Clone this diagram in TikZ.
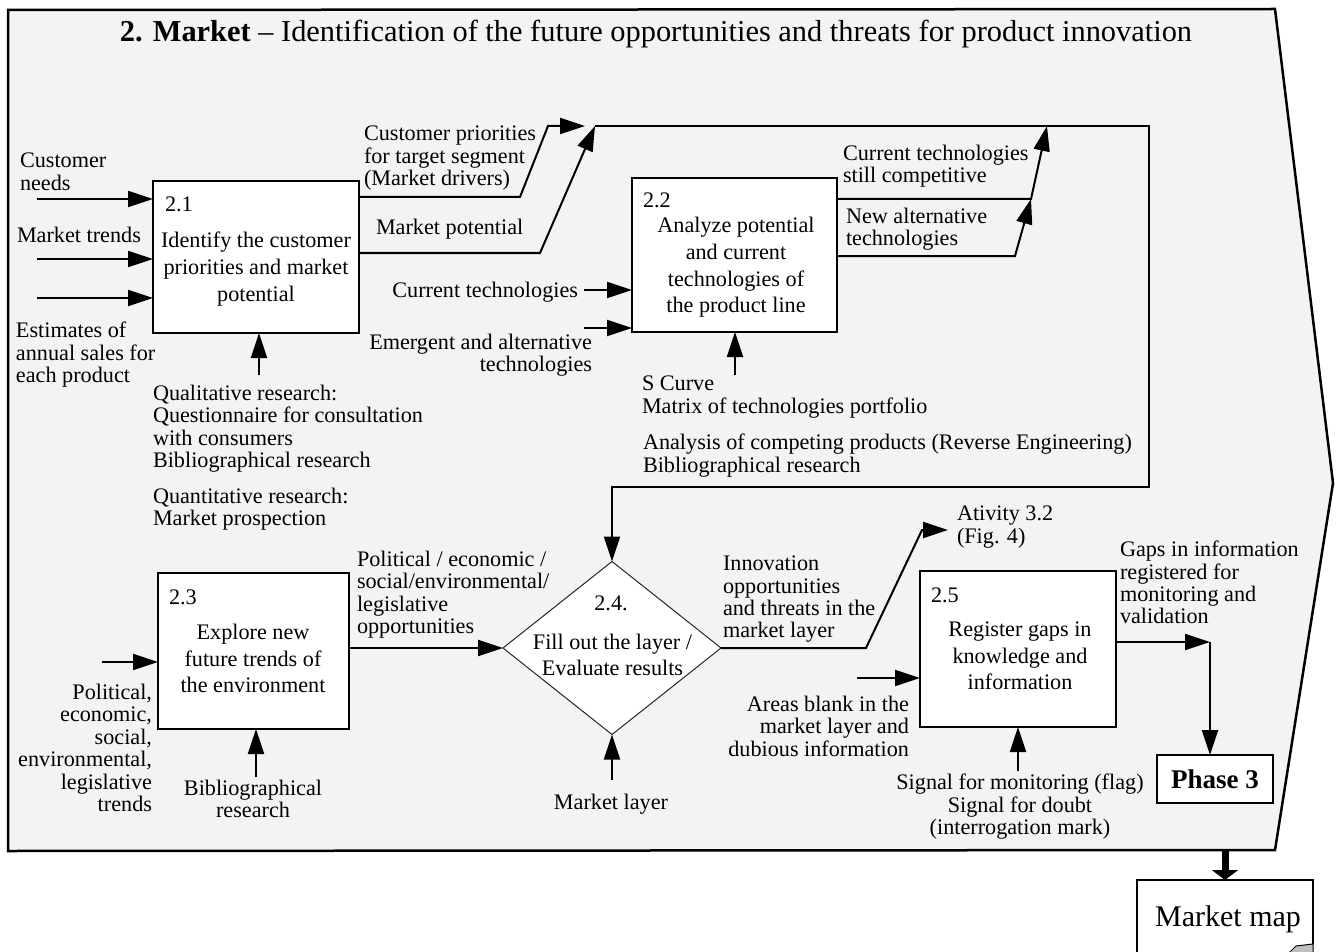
\documentclass[tikz,border=0pt]{standalone}
\usepackage{fontspec}
\setmainfont{Liberation Serif}
\usetikzlibrary{arrows.meta,shapes.geometric}
\definecolor{bgc}{RGB}{243,243,243}
\newcommand{\fsL}{\fontsize{22.2}{22.4}\selectfont}
\newcommand{\fsB}{\fontsize{22.2}{26.6}\selectfont}
\begin{document}
\begin{tikzpicture}[x=1pt,y=-1pt,
  txt/.style={inner sep=0pt, outer sep=0pt, font=\fsL, align=left},
  btxt/.style={inner sep=0pt, outer sep=0pt, font=\fsB, align=center},
  box/.style={draw, line width=2pt, fill=white, inner sep=0pt, outer sep=0pt},
  arr/.style={line width=2pt, -{Triangle[length=25pt,width=16pt]}},
  ln/.style={line width=2pt},
]
\useasboundingbox (0,0) rectangle (1336,952);
% outer frame
\draw[line width=2.5pt, fill=bgc] (8,10) -- (1275,9) -- (1333,483) -- (1275,850) -- (8,851) -- cycle;
\coordinate (ob) at (1225,851);

% title
\node[inner sep=0pt, font=\fontsize{30.4}{32}\selectfont, anchor=base] (title) at (656,42)
  {\textbf{2. Market} – Identification of the future opportunities and threats for product innovation};

% boxes
\node[box, minimum width=206pt, minimum height=152pt] (b1) at (256,257) {};
\node[box, minimum width=205pt, minimum height=154pt] (b2) at (734.5,255) {};
\node[box, minimum width=191pt, minimum height=156pt] (b3) at (253.5,651) {};
\node[diamond, draw=black!85, line width=1pt, fill=white, inner sep=0pt, outer sep=0pt,
      aspect=1.26, minimum width=218pt, minimum height=173pt] (d) at (612,648) {};
\node[box, minimum width=196pt, minimum height=156pt] (b5) at (1018,649) {};
\node[box, minimum width=116pt, minimum height=48pt] (p3) at (1215,779) {};

% box texts
\node[txt, anchor=base west] (n1) at (165,212) {2.1};
\node[btxt] (t1) at (256,269) {Identify the customer\\priorities and market\\potential};
\node[txt, anchor=base west] (n2) at (643,208) {2.2};
\node[btxt] (t2) at (736,267.5) {Analyze potential\\and current\\technologies of\\the product line};
\node[txt, anchor=base west] (n3) at (169,604) {2.3};
\node[btxt] (t3) at (253,658.5) {Explore new\\future trends of\\the environment};
\node[txt, anchor=base] (n4) at (611,610) {2.4.};
\node[btxt] (t4) at (612.5,655) {Fill out the layer /\\Evaluate results};
\node[txt, anchor=base west] (n5) at (931,602) {2.5};
\node[btxt] (t5) at (1020,656) {Register gaps in\\knowledge and\\information};
\node[inner sep=0pt, font=\fontsize{27}{29}\selectfont\bfseries, anchor=base] (t6) at (1215,788) {Phase 3};

% labels
\node[txt, anchor=north west] (cn) at (20,153) {Customer\\needs};
\node[txt, anchor=north west] (mt) at (17,227) {Market trends};
\node[txt, anchor=north west] (es) at (16,322) {Estimates of\\annual sales for\\each product};
\node[txt, anchor=north west] (qr) at (153,385) {Qualitative research:\\Questionnaire for consultation\\with consumers\\Bibliographical research};
\node[txt, anchor=north west] (qn) at (153,488) {Quantitative research:\\Market prospection};
\node[txt, anchor=north west] (cp) at (364,126) {Customer priorities\\for target segment\\(Market drivers)};
\node[txt, anchor=north west] (mp) at (376,219) {Market potential};
\node[txt, anchor=north east] (ct) at (578,282) {Current technologies};
\node[txt, anchor=north east, align=right] (ea) at (592,334) {Emergent and alternative\\technologies};
\node[txt, anchor=north west] (sc) at (642,376) {S Curve\\Matrix of technologies portfolio};
\node[txt, anchor=north west] (ac) at (643,434) {Analysis of competing products (Reverse Engineering)\\Bibliographical research};
\node[txt, anchor=north west] (cc) at (843,145) {Current technologies\\still competitive};
\node[txt, anchor=north west] (na) at (846,208) {New alternative\\technologies};
\node[txt, anchor=north west] (po) at (357,551) {Political / economic /\\social/environmental/\\legislative\\opportunities};
\node[txt, anchor=north east, align=right] (pe) at (152,684) {Political,\\economic,\\social,\\environmental,\\legislative\\trends};
\node[txt, anchor=north, align=center] (br) at (253,780) {Bibliographical\\research};
\node[txt, anchor=north] (ml) at (611,794) {Market layer};
\node[txt, anchor=north west] (io) at (723,556) {Innovation\\opportunities\\and threats in the\\market layer};
\node[txt, anchor=north west] (av) at (957,506) {Ativity 3.2\\(Fig. 4)};
\node[txt, anchor=north east, align=right] (ab) at (909,696) {Areas blank in the\\market layer and\\dubious information};
\node[txt, anchor=north, align=center] (sg) at (1020,774) {Signal for monitoring (flag)\\Signal for doubt\\(interrogation mark)};
\node[txt, anchor=north west] (gi) at (1120,541) {Gaps in information\\registered for\\monitoring and\\validation};

% coordinates
\coordinate (i1) at (37,199);
\coordinate (i2) at (37,259);
\coordinate (i3) at (37,298);
\coordinate (k1) at (259,375);
\coordinate (o1a) at (520,197);
\coordinate (o1b) at (548,126);
\coordinate (o1t) at (585,126);
\coordinate (o2a) at (540,253);
\coordinate (j) at (595,126);
\coordinate (r1) at (1149,126);
\coordinate (r2) at (1149,487);
\coordinate (r3) at (612,487);
\coordinate (i4) at (584,290);
\coordinate (i5) at (584,328);
\coordinate (k2) at (735,375);
\coordinate (o3a) at (1031,199);
\coordinate (o3t) at (1047,126);
\coordinate (o4a) at (1015,256);
\coordinate (i6) at (102,662);
\coordinate (k3) at (256,777);
\coordinate (k4) at (612,780);
\coordinate (o5a) at (866,648);
\coordinate (o5b) at (922,530);
\coordinate (o5t) at (948,530);
\coordinate (i7) at (857,678);
\coordinate (k5) at (1018,771);
\coordinate (g) at (1210,642);

% connectors 2.1
\draw[arr] (i1) -- (i1 -| b1.west);
\draw[arr] (i2) -- (i2 -| b1.west);
\draw[arr] (i3) -- (i3 -| b1.west);
\draw[arr] (k1) -- (k1 |- b1.south);
\draw[arr] (o1a -| b1.east) -- (o1a) -- (o1b) -- (o1t);
\draw[arr] (o2a -| b1.east) -- (o2a) -- (j);
\draw[arr] (j) -- (r1) -- (r2) -- (r3) -- (d.north);
% 2.2
\draw[arr] (i4) -- (i4 -| b2.west);
\draw[arr] (i5) -- (i5 -| b2.west);
\draw[arr] (k2) -- (k2 |- b2.south);
\draw[arr] (o3a -| b2.east) -- (o3a) -- (o3t);
\draw[arr] (o4a -| b2.east) -- (o4a) -- (o3a);
% 2.3
\draw[arr] (i6) -- (i6 -| b3.west);
\draw[arr] (k3) -- (k3 |- b3.south);
\draw[arr] (d.west -| b3.east) -- (d.west);
% 2.4
\draw[arr] (k4) -- (d.south);
\draw[arr] (d.east) -- (o5a) -- (o5b) -- (o5t);
% 2.5
\draw[arr] (i7) -- (i7 -| b5.west);
\draw[arr] (k5) -- (k5 |- b5.south);
\draw[arr] (g -| b5.east) -- (g);
\draw[arr] (g) -- (g |- p3.north);

% market map
\node[inner sep=0pt, font=\fontsize{30}{32}\selectfont, anchor=base] (mm) at (1228,926) {Market map};
\draw[line width=1.5pt] (1137,953) -- (1137,880) -- (1313,880) -- (1313,944);
\draw[line width=1pt, fill=black!25] (1313,944) -- (1296,946) -- (1289,953) -- (1313,953) -- cycle;
\coordinate (mmt) at (1225,880);
\draw[line width=7pt, -{Triangle[length=10pt,width=26pt]}] (ob) -- (mmt);
\end{tikzpicture}
\end{document}
